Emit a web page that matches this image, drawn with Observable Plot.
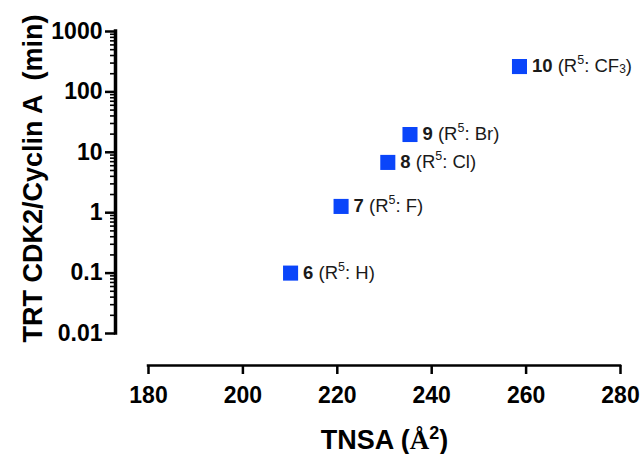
<!DOCTYPE html>
<html><head><meta charset="utf-8">
<script src="https://cdn.jsdelivr.net/npm/d3@7"></script>
<script src="https://cdn.jsdelivr.net/npm/@observablehq/plot@0.6"></script>
<style>body{margin:0;background:#fff;} svg{display:block;}</style>
</head><body><div id="chart"></div>
<script>
// ---- data ----
const compounds = ["6", "7", "8", "9", "10"];
const substituents = ["H", "F", "Cl", "Br", "CF3"];
const tnsa = [210.1, 220.8, 230.7, 235.4, 258.6];
const trt = [0.1, 1.27, 6.8, 19.7, 263];

const xTicks = [180, 200, 220, 240, 260, 280];
const yTicks = [0.01, 0.1, 1, 10, 100, 1000];
const yTickLabels = ["0.01", "0.1", "1", "10", "100", "1000"];
const yTitle = "TRT CDK2/Cyclin A \u00a0(min)";
const xTitle = ["TNSA (", "Å", "2", ")"];

const yMinor = [];
for (const base of [0.01, 0.1, 1, 10, 100]) for (let k = 2; k <= 9; k++) yMinor.push(+(base * k).toPrecision(3));

const data = compounds.map((id, i) => ({id, sub: substituents[i], tnsa: tnsa[i], trt: trt[i]}));

const NS = "http://www.w3.org/2000/svg";
function span(parent, text, attrs = {}) {
  const t = document.createElementNS(NS, "tspan");
  for (const [k, v] of Object.entries(attrs)) t.setAttribute(k, v);
  t.textContent = text;
  parent.appendChild(t);
  return t;
}

const font = "'Liberation Sans', Arial, sans-serif";
const yOff = -33, xOff = 32;

const chart = Plot.plot({
  width: 643, height: 454,
  marginLeft: 148, marginRight: 23, marginTop: 31, marginBottom: 121,
  style: {fontFamily: font, color: "#000", background: "#fff", overflow: "visible"},
  x: {domain: [180, 280]},
  y: {type: "log", domain: [0.01, 1000]},
  marks: [
    // y axis
    Plot.axisY({ticks: yMinor, dx: yOff, tickSize: 5, strokeWidth: 1.6, tickFormat: () => "", label: null}),
    Plot.axisY({ticks: yTicks, dx: yOff, tickSize: 10, tickPadding: 3, strokeWidth: 2.5,
      tickFormat: d => yTickLabels[yTicks.indexOf(d)], fontSize: 23, fontWeight: "bold", label: null}),
    Plot.ruleX([180], {y1: 0.01, y2: 1000, dx: yOff, strokeWidth: 3.5, strokeLinecap: "square"}),
    // x axis
    Plot.axisX({ticks: xTicks, dy: xOff, tickSize: 9, tickPadding: 12, strokeWidth: 2.5,
      fontSize: 23, fontWeight: "bold", label: null}),
    Plot.ruleY([0.01], {x1: 180, x2: 280, dy: xOff, strokeWidth: 2.5, strokeLinecap: "square"}),
    // titles
    Plot.text([yTitle], {frameAnchor: "left", text: d => d, rotate: -90, dx: -115, dy: -4,
      fontSize: 27, fontWeight: "bold", textAnchor: "middle", lineAnchor: "middle"}),
    Plot.text([xTitle], {frameAnchor: "bottom", text: d => d.join(""), dy: 107,
      fontSize: 27, fontWeight: "bold", textAnchor: "middle", lineAnchor: "middle",
      render(index, scales, values, dims, ctx, next) {
        const g = next(index, scales, values, dims, ctx);
        g.querySelectorAll("text").forEach(t => {
          t.textContent = "";
          span(t, xTitle[0]);
          span(t, xTitle[1], {"font-family": "'Liberation Serif', 'Times New Roman', serif"});
          span(t, xTitle[2], {"font-size": "18", dy: "-10"});
          span(t, xTitle[3], {dy: "10"});
        });
        return g;
      }}),
    // points
    Plot.dot(data, {x: "tnsa", y: "trt", symbol: "square", r: 8.5, fill: "#0a45fa", stroke: null}),
    Plot.text(data, {x: "tnsa", y: "trt", text: "id", textAnchor: "start", dx: 12.5, fontSize: 18.5, fill: "#1a1a1a",
      render(index, scales, values, dims, ctx, next) {
        const g = next(index, scales, values, dims, ctx);
        g.querySelectorAll("text").forEach((t, i) => {
          const d = data[index[i]];
          t.textContent = "";
          span(t, d.id, {"font-weight": "bold"});
          span(t, " (R");
          span(t, "5", {"font-size": "12.5", dy: "-8"});
          const m = d.sub.match(/^(\D+)(\d*)$/);
          span(t, ": " + m[1], {dy: "8"});
          if (m[2]) {
            span(t, m[2], {"font-size": "12", dy: "1"});
            span(t, ")", {dy: "-1"});
          } else span(t, ")");
        });
        return g;
      }})
  ]
});
document.getElementById("chart").appendChild(chart);
</script>
</body></html>
